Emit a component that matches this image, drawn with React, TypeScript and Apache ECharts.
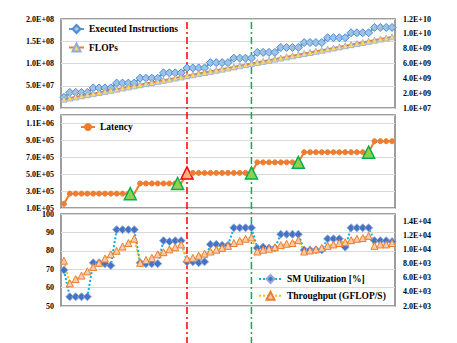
import React, { useEffect, useRef } from "react";
import * as echarts from "echarts";

// ---- data ----
const categories: string[] = [
  "1","2","3","4","5","6","7","8","9","10","11","12","13","14","15","16","17","18","19","20",
  "21","22","23","24","25","26","27","28","29","30","31","32","33","34","35","36","37","38","39","40",
  "41","42","43","44","45","46","47","48","49","50","51","52","53","54","55","56","57",
];

const executedInstructions: number[] = [
  2.4e7,
  3.5e7, 3.5e7, 3.5e7, 3.5e7,
  4.5e7, 4.5e7, 4.5e7, 4.5e7,
  5.6e7, 5.6e7, 5.6e7, 5.6e7,
  6.7e7, 6.7e7, 6.7e7, 6.7e7,
  7.9e7, 7.9e7, 7.9e7, 7.9e7,
  9.0e7, 9.0e7, 9.0e7, 9.0e7,
  1.02e8, 1.02e8, 1.02e8, 1.02e8,
  1.12e8, 1.12e8, 1.12e8, 1.12e8,
  1.25e8, 1.25e8, 1.25e8, 1.25e8,
  1.36e8, 1.36e8, 1.36e8, 1.36e8,
  1.47e8, 1.47e8, 1.47e8, 1.47e8,
  1.58e8, 1.58e8, 1.58e8, 1.58e8,
  1.69e8, 1.69e8, 1.69e8, 1.69e8,
  1.81e8, 1.81e8, 1.81e8, 1.81e8,
];

const flops: number[] = [
  1.2e9, 1.35e9, 1.5e9, 1.65e9, 1.8e9, 1.95e9, 2.1e9, 2.25e9, 2.4e9, 2.55e9,
  2.7e9, 2.85e9, 3.0e9, 3.15e9, 3.3e9, 3.45e9, 3.6e9, 3.75e9, 3.9e9, 4.05e9,
  4.2e9, 4.35e9, 4.5e9, 4.65e9, 4.8e9, 4.95e9, 5.1e9, 5.25e9, 5.4e9, 5.55e9,
  5.7e9, 5.85e9, 6.0e9, 6.15e9, 6.3e9, 6.45e9, 6.6e9, 6.75e9, 6.9e9, 7.05e9,
  7.2e9, 7.35e9, 7.5e9, 7.65e9, 7.8e9, 7.95e9, 8.1e9, 8.25e9, 8.4e9, 8.55e9,
  8.7e9, 8.85e9, 9.0e9, 9.15e9, 9.3e9, 9.45e9, 9.6e9,
];

const latency: number[] = [
  1.5e5,
  2.7e5, 2.7e5, 2.7e5, 2.7e5, 2.7e5, 2.7e5, 2.7e5, 2.7e5, 2.7e5, 2.7e5, 2.7e5, 2.7e5,
  3.9e5, 3.9e5, 3.9e5, 3.9e5, 3.9e5, 3.9e5, 3.9e5, 3.9e5,
  5.15e5, 5.15e5, 5.15e5, 5.15e5, 5.15e5, 5.15e5, 5.15e5, 5.15e5, 5.15e5, 5.15e5, 5.15e5, 5.15e5,
  6.4e5, 6.4e5, 6.4e5, 6.4e5, 6.4e5, 6.4e5, 6.4e5, 6.4e5,
  7.6e5, 7.6e5, 7.6e5, 7.6e5, 7.6e5, 7.6e5, 7.6e5, 7.6e5, 7.6e5, 7.6e5, 7.6e5, 7.6e5,
  8.9e5, 8.9e5, 8.9e5, 8.9e5,
];

// highlighted latency points (index) and their drawn horizontal nudge in the figure
const greenTriangleIdx: number[] = [12, 20, 32, 40, 52];
const greenTriangleNudge: number[] = [-4, -3.5, 0, 0, 0];
const redTriangleIdx: number[] = [21];

const smUtilization: number[] = [
  69.5,
  55, 55, 55, 55,
  73.5, 73.5, 73, 72,
  91.5, 91.5, 91.5, 91.5,
  73.5, 73, 73, 73,
  85.5, 85, 85.5, 85.5,
  74, 74, 73.5, 74,
  83.5, 83.5, 83, 83,
  92.5, 92.5, 92.5, 92.5,
  81.5, 82, 81.5, 81.5,
  89, 89, 89, 89,
  80.5, 80.5, 80.5, 80.5,
  86.5, 86.5, 86.5, 82,
  92.5, 92.5, 92.5, 92.5,
  85.5, 85.5, 85.5, 85,
];

const throughput: number[] = [
  8400,
  5200, 5800, 6300, 6900, 7500, 8100, 8700, 9300, 9800, 10400, 10900, 11500,
  8100, 8500, 8800, 9300, 9600, 10000, 10300, 10700,
  8700, 8800, 9100, 9400, 9700, 9950, 10200, 10500, 10900, 11200, 11500, 11700,
  9700, 9950, 10100, 10300, 10600, 10800, 10900, 11300,
  9700, 9850, 10000, 10200, 10500, 10700, 10900, 11000, 11300, 11500, 11600, 11900,
  10500, 10700, 10700, 10900,
];

// vertical marker lines (category index)
const redLineIdx = 21;
const greenLineIdx = 32;

// tick labels
const p1LeftTicks = ["0.0E+00", "5.0E+07", "1.0E+08", "1.5E+08", "2.0E+08"];
const p1RightTicks = ["1.0E+07", "2.0E+09", "4.0E+09", "6.0E+09", "8.0E+09", "1.0E+10", "1.2E+10"];
const p2Ticks = ["1.0E+05", "3.0E+05", "5.0E+05", "7.0E+05", "9.0E+05", "1.1E+06"];
const p3LeftTicks = ["50", "60", "70", "80", "90", "100"];
const p3RightTicks = ["2.0E+03", "4.0E+03", "6.0E+03", "8.0E+03", "1.0E+04", "1.2E+04", "1.4E+04"];

const FONT = "Liberation Serif";

export default function App() {
  const ref = useRef<HTMLDivElement>(null);

  useEffect(() => {
    if (!ref.current) return;
    const chart = echarts.init(ref.current, undefined, { renderer: "svg" });

    const labelStyle = (ticks: string[], side: "left" | "right") => ({
      show: true,
      color: "#000",
      fontFamily: FONT,
      fontWeight: "bold" as const,
      fontSize: 8,
      margin: side === "left" ? 7 : 8,
      formatter: (_v: number, i: number) => (i < ticks.length ? ticks[i] : ""),
    });
    const split = { show: true, lineStyle: { color: "#D9D9D9", width: 1 } };
    const noSplit = { show: false };

    const grids = [
      { left: 61, right: 62, top: 19, height: 89 },
      { left: 61, right: 62, top: 115, height: 93 },
      { left: 61, right: 62, top: 214, height: 92 },
    ].map((g) => ({ ...g, show: true, borderColor: "#7F7F7F", borderWidth: 1.5, containLabel: false }));

    const xAxes = [0, 1, 2].map((gi) => ({
      type: "category" as const,
      gridIndex: gi,
      data: categories,
      boundaryGap: true,
      axisLine: { show: false },
      axisTick: { show: false },
      axisLabel: { show: false },
      splitLine: { show: false },
    }));

    const yBase = { type: "value" as const, axisLine: { show: false }, axisTick: { show: false } };

    const yAxes = [
      { ...yBase, gridIndex: 0, position: "left", min: 0, max: 2e8, interval: 5e7, axisLabel: labelStyle(p1LeftTicks, "left"), splitLine: split },
      { ...yBase, gridIndex: 0, position: "right", min: 1e7, max: 1.201e10, interval: 2e9, axisLabel: labelStyle(p1RightTicks, "right"), splitLine: noSplit },
      { ...yBase, gridIndex: 1, position: "left", min: 1e5, max: 1.2e6, interval: 2e5, axisLabel: labelStyle(p2Ticks, "left"), splitLine: split },
      { ...yBase, gridIndex: 2, position: "left", min: 50, max: 100, interval: 10, axisLabel: labelStyle(p3LeftTicks, "left"), splitLine: split },
      { ...yBase, gridIndex: 2, position: "right", min: 2000, max: 15000, interval: 2000, axisLabel: labelStyle(p3RightTicks, "right"), splitLine: noSplit },
    ];

    const latencyData = latency.map((v, i) => {
      if (redTriangleIdx.includes(i)) {
        return { value: v, symbol: "triangle", symbolSize: 12, itemStyle: { color: "#F4B183", borderColor: "#FF0000", borderWidth: 1.5 } };
      }
      const g = greenTriangleIdx.indexOf(i);
      if (g >= 0) {
        return {
          value: v, symbol: "triangle", symbolSize: 12, symbolOffset: [greenTriangleNudge[g], 0],
          itemStyle: { color: "#92D050", borderColor: "#00B050", borderWidth: 1.5 },
        };
      }
      return v;
    });

    const legendText = { color: "#000", fontFamily: FONT, fontWeight: "bold" as const, fontSize: 9.5, lineHeight: 12 };

    chart.setOption({
      animation: false,
      grid: grids,
      xAxis: xAxes,
      yAxis: yAxes,
      legend: [
        {
          data: ["Executed Instructions", "FLOPs"],
          orient: "vertical", left: 68, top: 23, padding: 0, itemGap: 6.5,
          itemWidth: 15, itemHeight: 10, textStyle: legendText,
        },
        {
          data: ["Latency"],
          orient: "vertical", left: 80, top: 121, padding: 0,
          itemWidth: 14, itemHeight: 10, textStyle: legendText,
        },
        {
          data: ["SM Utilization [%]", "Throughput (GFLOP/S)"],
          orient: "vertical", left: 258, top: 273, padding: 0, itemGap: 4.7,
          itemWidth: 23, itemHeight: 10, textStyle: legendText,
        },
      ],
      series: [
        {
          name: "Executed Instructions", type: "line", xAxisIndex: 0, yAxisIndex: 0,
          data: executedInstructions, symbol: "diamond", symbolSize: 8, showAllSymbol: true,
          color: "#5B9BD5",
          lineStyle: { color: "#5B9BD5", width: 2 },
          itemStyle: { color: "#9DC3E6", borderColor: "#4F8BD0", borderWidth: 1 },
        },
        {
          name: "FLOPs", type: "line", xAxisIndex: 0, yAxisIndex: 1,
          data: flops, symbol: "triangle", symbolSize: 6, showAllSymbol: true,
          color: "#ED7D31",
          lineStyle: { color: "#ED7D31", width: 2 },
          itemStyle: { color: "#FFD966", borderColor: "#8FAADC", borderWidth: 0.8 },
        },
        {
          name: "Latency", type: "line", xAxisIndex: 1, yAxisIndex: 2,
          data: latencyData, symbol: "circle", symbolSize: 5, showAllSymbol: true,
          color: "#ED7D31",
          lineStyle: { color: "#ED7D31", width: 2 },
          itemStyle: { color: "#ED7D31", borderColor: "#ED7D31" },
        },
        {
          name: "SM Utilization [%]", type: "line", xAxisIndex: 2, yAxisIndex: 3,
          data: smUtilization, symbol: "diamond", symbolSize: 8, showAllSymbol: true,
          color: "#4472C4",
          lineStyle: { color: "#00B0F0", width: 2, type: "dotted" },
          itemStyle: { color: "#4472C4", borderColor: "#8FAADC", borderWidth: 1 },
        },
        {
          name: "Throughput (GFLOP/S)", type: "line", xAxisIndex: 2, yAxisIndex: 4,
          data: throughput, symbol: "triangle", symbolSize: 7, showAllSymbol: true,
          color: "#ED7D31",
          lineStyle: { color: "#FFC000", width: 2, type: "dotted" },
          itemStyle: { color: "#F8CBAD", borderColor: "#ED7D31", borderWidth: 1 },
        },
      ],
    });

    const xr = chart.convertToPixel({ xAxisIndex: 0 }, redLineIdx) as number;
    const xg = chart.convertToPixel({ xAxisIndex: 0 }, greenLineIdx) as number;
    chart.setOption({
      graphic: [
        {
          type: "line", silent: true, z: 1,
          shape: { x1: xr, y1: 22, x2: xr, y2: 343 },
          style: { stroke: "#FF0000", lineWidth: 1.5, lineDash: [7, 3, 2, 3] },
        },
        {
          type: "line", silent: true, z: 1,
          shape: { x1: xg, y1: 22, x2: xg, y2: 343 },
          style: { stroke: "#00B050", lineWidth: 1.5, lineDash: [7, 3, 2, 3] },
        },
      ],
    });

    return () => chart.dispose();
  }, []);

  return (
    <div
      ref={ref}
      style={{ position: "absolute", left: 0, top: 0, width: 457, height: 343, background: "#fff" }}
    />
  );
}
